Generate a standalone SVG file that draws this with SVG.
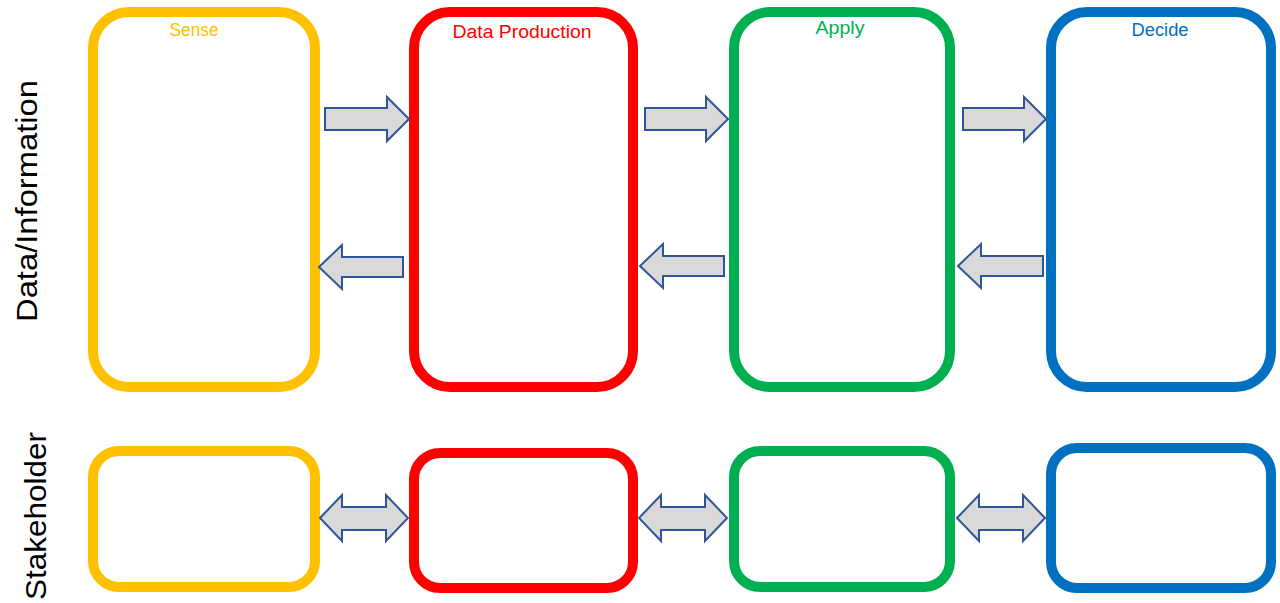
<svg xmlns="http://www.w3.org/2000/svg" width="1280" height="603" viewBox="0 0 1280 603">
<style>
.box{fill:#fff;stroke-width:10}
.y{stroke:#FFC000}.r{stroke:#FF0000}.g{stroke:#00B050}.b{stroke:#0070C0}
.arr{fill:#D9D9D9;stroke:#2F5597;stroke-width:2;stroke-linejoin:miter}
.t{font-family:"Liberation Sans",Arial,sans-serif;font-size:18px;text-anchor:middle}
.side{font-family:"Liberation Sans",Arial,sans-serif;font-size:30px;fill:#000;text-anchor:middle}
</style>
<rect width="1280" height="603" fill="#fff"/>
<g id="label-data"><text class="side" transform="translate(37,201) rotate(-90)" textLength="242" lengthAdjust="spacingAndGlyphs">Data/Information</text></g>
<g id="label-stakeholder"><text class="side" transform="translate(46,516) rotate(-90)" textLength="168" lengthAdjust="spacingAndGlyphs">Stakeholder</text></g>
<g id="sense"><rect class="box y" x="93" y="12" width="222" height="375" rx="36"/><text class="t" x="194" y="36" fill="#FFC000" textLength="49" lengthAdjust="spacingAndGlyphs">Sense</text></g>
<g id="data-production"><rect class="box r" x="414" y="12" width="219" height="375" rx="36"/><text class="t" x="522" y="38" fill="#FF0000" textLength="139" lengthAdjust="spacingAndGlyphs">Data Production</text></g>
<g id="apply"><rect class="box g" x="734" y="12" width="216" height="375" rx="36"/><text class="t" x="840" y="34" fill="#00B050" textLength="49" lengthAdjust="spacingAndGlyphs">Apply</text></g>
<g id="decide"><rect class="box b" x="1051" y="12" width="220" height="375" rx="36"/><text class="t" x="1160" y="36" fill="#0070C0" textLength="57" lengthAdjust="spacingAndGlyphs">Decide</text></g>
<g id="sense-stake"><rect class="box y" x="93" y="451" width="222" height="136" rx="26"/></g>
<g id="dp-stake"><rect class="box r" x="414" y="453" width="219" height="135" rx="26"/></g>
<g id="apply-stake"><rect class="box g" x="734" y="451" width="216" height="136" rx="26"/></g>
<g id="decide-stake"><rect class="box b" x="1051" y="448" width="220" height="140" rx="26"/></g>
<g id="connectors">
<path class="arr" d="M325,108 H387 V97 L409,119 L387,141 V130 H325 Z"/>
<path class="arr" d="M645,108 H706 V97 L728,119 L706,141 V130 H645 Z"/>
<path class="arr" d="M963,108 H1024 V97 L1046,119 L1024,141 V130 H963 Z"/>
<path class="arr" d="M403,257 H342 V245 L319,267 L342,289 V277 H403 Z"/>
<path class="arr" d="M724,256 H663 V244 L640,266 L663,288 V276 H724 Z"/>
<path class="arr" d="M1043,256 H981 V244 L958,266 L981,288 V276 H1043 Z"/>
<path class="arr" d="M320,518 L342,495 V507 H386 V495 L408,518 L386,541 V530 H342 V541 Z"/>
<path class="arr" d="M639,518 L661,495 V507 H705 V495 L727,518 L705,541 V530 H661 V541 Z"/>
<path class="arr" d="M957,518 L979,495 V507 H1023 V495 L1045,518 L1023,541 V530 H979 V541 Z"/>
</g>
</svg>
